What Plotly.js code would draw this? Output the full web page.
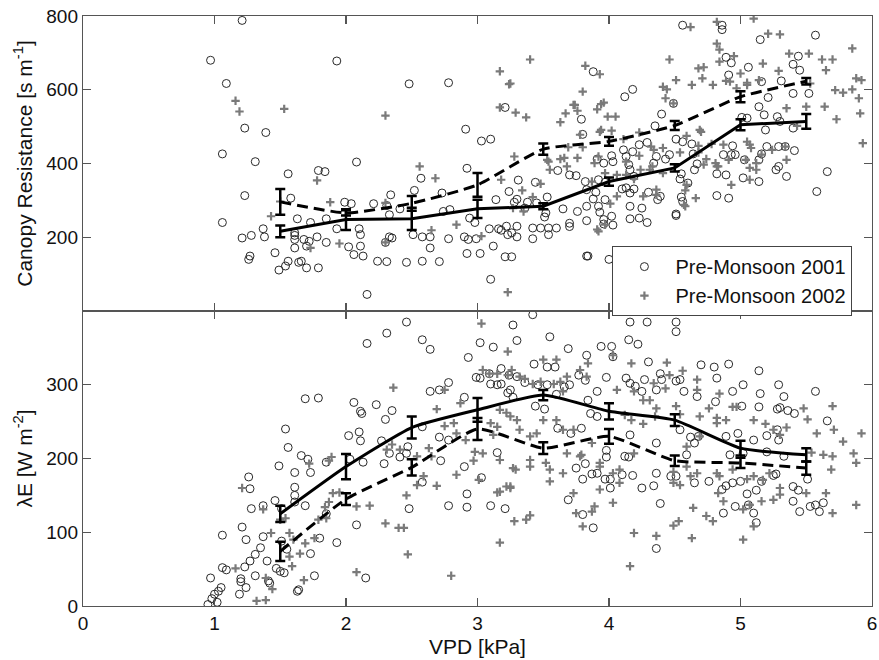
<!DOCTYPE html>
<html>
<head>
<meta charset="utf-8">
<script src="https://cdn.plot.ly/plotly-3.0.1.min.js"></script>
<style>html,body{margin:0;padding:0;background:#fff;}#chart{width:879px;height:660px;}</style>
</head>
<body>
<div id="chart"></div>
<script>
// ---- Bin means (VPD bins) ----
const binVPD = [1.5, 2, 2.5, 3, 3.5, 4, 4.5, 5, 5.5];
const rcMean2001 = [216, 248, 250, 277, 284, 351, 388, 505, 514];
const rcErr2001  = [16, 28, 30, 25, 8, 11, 10, 15, 20];
const rcMean2002 = [296, 266, 292, 342, 439, 460, 503, 581, 623];
const rcErr2002  = [35, 7, 20, 32, 15, 12, 12, 15, 9];
const leMean2001 = [125, 189, 242, 266, 286, 264, 252, 214, 205];
const leErr2001  = [11, 17, 15, 16, 7, 11, 8, 10, 9];
const leMean2002 = [74, 145, 188, 240, 214, 230, 197, 194, 187];
const leErr2002  = [13, 8, 11, 15, 8, 10, 7, 7, 9];

// ---- Canopy resistance, Pre-Monsoon 2001 (circles) [vpd, rc] ----
const rc2001 = [
[0.97,680],[1.21,788],[1.09,617],[1.23,496],[1.39,484],[1.06,426],[1.31,405],[1.56,372],[1.23,313],[1.58,306],
[1.06,240],[1.37,223],[1.21,198],[1.28,205],[1.38,201],[1.63,250],[1.61,205],[1.61,171],[1.46,158],[1.27,149],
[1.26,140],[1.49,111],[1.54,122],[1.56,135],[1.64,132],
[1.93,678],[2.48,616],[2.78,619],[3.21,552],[2.91,493],[3.03,461],[3.10,466],[3.79,520],[3.80,479],[2.08,404],
[1.79,381],[1.84,378],[2.92,387],[2.57,360],[3.31,355],[3.44,349],[3.61,381],[3.70,369],[3.75,367],[3.82,351],
[2.52,327],[2.34,315],[2.73,320],[3.24,324],[3.14,302],[3.30,303],[3.28,295],[1.99,295],[2.04,291],[2.21,291],
[2.31,286],[2.41,277],[1.73,240],[1.85,250],[1.93,223],[2.10,223],[2.11,207],[2.33,261],[2.33,201],[2.51,207],
[2.58,201],[2.64,201],[2.64,171],[2.74,270],[2.79,275],[2.78,196],[2.90,201],[2.93,194],[2.99,196],[2.94,252],
[2.98,240],[2.92,156],[3.02,156],[3.09,223],[3.16,223],[3.18,219],[3.12,176],[3.23,207],[3.26,212],[3.30,201],
[3.21,147],[3.26,147],[3.10,86],[2.16,45],[3.36,279],[3.38,295],[3.45,293],[3.53,309],[3.42,196],[3.42,225],
[3.48,225],[3.54,225],[3.60,225],[3.54,207],[3.51,255],[3.52,266],[3.65,277],[3.76,270],[3.83,284],[3.83,245],
[3.70,238],[3.70,229],[3.83,149],[1.61,212],[1.61,194],[1.68,194],[1.70,176],[1.72,189],[1.78,201],[1.85,186],
[1.66,135],[1.70,117],[1.79,117],[2.02,174],[2.06,153],[2.11,176],[2.13,149],[2.24,135],[2.31,134],[2.46,132],
[2.58,135],[2.71,134],[2.30,186],[2.35,198],[3.22,230],[3.30,230],
[4.56,775],[4.86,775],[4.86,763],[5.15,736],[5.57,748],[4.89,688],[4.93,673],[4.91,640],[5.06,661],[3.88,649],
[5.44,691],[5.40,669],[5.45,653],[5.16,622],[5.31,624],[5.40,590],[5.52,590],[5.21,579],[4.18,601],[4.12,581],
[4.49,563],[4.40,534],[4.35,502],[5.01,525],[5.05,523],[5.14,554],[5.18,532],[5.28,527],[5.30,514],[5.40,496],
[5.19,491],[5.20,446],[5.29,446],[5.34,446],[5.41,435],[4.94,448],[4.87,424],[4.93,424],[4.96,424],[5.03,410],
[5.14,410],[5.16,426],[4.63,453],[4.64,426],[4.51,466],[4.56,459],[4.23,451],[4.29,457],[4.18,432],[4.11,437],
[4.13,419],[4.02,421],[3.91,412],[3.96,401],[4.03,405],[4.36,419],[4.34,401],[4.46,424],[4.43,412],[4.67,399],
[4.65,383],[4.55,372],[4.54,358],[4.60,347],[4.55,309],[4.56,297],[4.51,259],[4.51,263],[4.82,372],[4.89,369],
[4.82,313],[4.91,306],[5.02,361],[5.14,351],[5.29,392],[5.35,365],[5.27,383],[5.66,378],[5.58,324],[4.15,397],
[4.16,383],[4.19,365],[3.92,356],[3.97,349],[3.83,329],[3.90,322],[3.88,304],[3.97,302],[3.92,284],[4.19,331],
[4.30,322],[4.39,311],[4.16,284],[4.25,279],[4.37,302],[3.93,268],[3.96,248],[4.02,257],[3.96,236],[4.03,233],
[4.16,250],[4.23,252],[4.29,240],[3.84,149],[4.00,140],[4.10,331],[4.13,334],[4.16,320]
];

// ---- Canopy resistance, Pre-Monsoon 2002 (plus signs) ----
const rc2002 = [
[1.16,570],[1.19,541],[1.53,548],[1.43,257],[1.50,297],
[3.40,682],[3.17,650],[3.24,615],[2.30,530],[3.17,552],[3.29,538],[3.37,525],[3.82,665],[3.80,595],[3.74,559],
[3.76,543],[3.67,536],[3.63,512],[3.28,419],[3.54,405],[3.55,383],[3.66,415],[3.76,415],[2.56,392],[2.68,360],
[1.78,354],[3.18,356],[3.34,327],[3.48,345],[1.88,295],[2.30,293],[2.84,234],[2.65,219],[1.95,183],[2.30,186],
[1.73,171],[3.03,203],[3.23,51],
[4.62,770],[4.82,784],[5.10,793],[4.82,725],[4.84,709],[4.95,691],[5.21,752],[5.30,750],[4.72,661],[4.84,676],
[4.46,682],[4.51,626],[4.63,613],[4.44,601],[3.93,642],[5.00,644],[5.05,619],[4.89,624],[4.97,604],[5.17,671],
[5.29,651],[5.37,698],[5.52,698],[5.62,682],[5.70,682],[5.65,653],[5.85,712],[5.88,631],[5.92,626],[5.90,577],
[5.91,536],[5.85,601],[5.72,599],[5.78,592],[5.64,554],[5.73,520],[5.93,455],[3.91,547],[3.99,527],[4.05,527],
[3.94,561],[3.94,491],[3.78,478],[4.11,466],[4.23,484],[4.32,446],[4.23,421],[4.41,442],[4.59,475],[4.70,486],
[4.54,430],[4.68,430],[4.78,453],[4.87,451],[5.07,451],[5.16,424],[5.12,401],[5.07,388],[5.24,437],[5.34,446],
[5.35,410],[5.43,502],[5.35,550],[5.50,554],[5.53,617],[3.89,401],[3.97,374],[3.87,351],[4.06,369],[4.19,358],
[4.41,374],[4.31,383],[4.72,397],[4.81,401],[4.83,392],[4.59,342],[4.58,327],[4.26,311],[4.36,315],[4.58,284],
[3.91,221],[4.01,291],[4.06,311],
[3.25,617],[3.73,559],[3.96,565],[4.41,608],[4.68,658],[4.49,563],[4.43,577],[4.71,631],[4.79,613],[4.92,622],
[5.05,613],[5.14,626],[3.92,419],[3.93,486],[4.02,489],[3.80,444],[3.69,444],[3.63,412],[3.68,392],[3.53,410],
[3.42,309],[3.35,270],[3.27,279],[3.92,216],[3.97,234],[4.57,288],[4.34,437],[4.33,392],[4.24,383],[4.13,405],
[4.13,369],[4.36,329],[4.69,491],[4.68,448],[4.82,392],[4.74,412],[4.91,410],[5.05,459],[5.08,442],[5.04,410],
[5.12,383],[5.07,356],[4.93,342],[4.66,306]
];

// ---- Latent heat flux, Pre-Monsoon 2001 (circles) ----
const le2001 = [
[1.54,240],[1.56,215],[1.49,190],[1.26,175],[1.27,159],[1.61,181],[1.61,161],[1.46,143],[1.28,132],[1.37,136],
[1.61,150],[1.61,141],[1.21,107],[1.06,96],[1.24,90],[1.37,94],[1.31,70],[1.35,79],[1.27,61],[1.40,61],
[1.23,53],[1.06,52],[1.09,49],[0.97,38],[1.20,37],[1.20,33],[1.31,41],[1.41,34],[1.42,31],[1.24,25],
[1.19,16],[1.05,25],[1.03,20],[1.00,16],[0.98,10],[0.95,2],[1.02,5],[1.47,51],[1.53,45],[1.63,20],
[1.51,132],[1.51,88],[1.55,77],
[1.69,281],[1.79,282],[2.06,276],[2.11,264],[2.12,261],[2.23,273],[2.35,265],[2.30,253],[2.02,231],[2.10,236],
[2.11,224],[1.66,204],[1.71,199],[1.73,181],[1.85,195],[2.03,199],[2.13,195],[2.27,224],[2.33,207],[2.41,202],
[2.29,193],[2.47,216],[2.46,207],[2.64,291],[2.71,293],[2.78,303],[2.90,283],[2.99,310],[3.10,301],[3.15,300],
[3.09,315],[3.23,289],[2.58,243],[2.71,229],[2.78,225],[2.72,197],[2.58,168],[2.90,189],[3.03,174],[3.15,208],
[3.21,132],[2.92,152],[2.92,134],[2.78,136],[2.48,132],[3.10,136],[1.69,136],[1.85,125],[1.93,86],[2.08,110],
[1.80,92],[1.73,71],[1.76,41],[1.64,22],[2.15,38],[1.50,47],
[2.46,385],[2.31,370],[2.16,356],[2.58,361],[2.64,348],[3.02,357],[3.12,351],[3.27,381],[3.30,360],[3.55,365],
[3.69,349],[3.83,340],[2.93,337],[3.02,309],[3.18,301],[3.18,322],[3.24,313],[3.30,311],[3.36,303],[3.43,328],
[3.46,300],[3.53,324],[3.59,324],[3.53,300],[3.60,287],[3.66,297],[3.70,300],[3.77,313],[3.82,306],[3.25,293],
[3.27,283],[3.44,271],[3.51,267],[3.61,241],[3.71,234],[3.75,187],[3.82,193],[3.80,172],[3.69,144],[3.80,124],
[3.42,395],
[4.16,385],[4.29,385],[4.51,385],[4.51,372],[4.15,361],[4.22,355],[3.94,352],[4.02,352],[4.03,338],[4.30,331],
[4.70,327],[4.80,324],[4.91,328],[5.14,319],[5.29,300],[5.33,284],[5.57,291],[5.66,251],[5.02,300],[4.94,291],
[3.98,310],[4.13,309],[4.16,302],[4.20,298],[4.25,291],[4.39,315],[4.40,307],[4.27,307],[4.36,293],[4.51,305],
[4.54,307],[4.57,291],[4.67,284],[4.81,277],[4.82,309],[5.01,271],[5.15,288],[5.14,270],[5.28,267],[5.30,269],
[5.36,265],[5.41,261],[3.91,291],[3.86,261],[3.91,257],[3.79,241],[3.87,179],[3.84,279],[3.98,211],[3.98,202],
[4.12,203],[4.15,202],[4.16,232],[4.36,221],[4.59,205],[4.62,229],[4.65,221],[4.68,230],[4.54,239],[4.89,230],
[4.98,234],[4.92,205],[5.02,207],[5.10,225],[5.20,231],[5.29,225],[5.28,239],[5.20,209],[5.33,203],[3.91,180],
[3.97,172],[4.01,172],[4.01,160],[4.10,178],[4.18,177],[4.25,160],[4.34,163],[4.36,180],[4.47,176],[4.51,176],
[4.65,167],[4.76,169],[4.86,158],[4.89,163],[4.94,167],[5.00,169],[5.05,152],[5.12,157],[5.16,169],[5.25,177],
[5.27,179],[5.40,162],[5.44,157],[5.51,172],[3.88,106],[4.36,78],[4.87,126],[4.96,135],[5.06,137],[5.10,126],
[5.12,113],[4.39,139],[5.45,128],[5.53,135],[5.57,137],[5.60,128],[5.63,140],[5.40,142]
];

// ---- Latent heat flux, Pre-Monsoon 2002 (plus signs) ----
const le2002 = [
[1.21,160],[1.16,51],[1.32,7],[1.39,8],[1.44,23],[1.39,38],[1.43,99],[1.59,54],[1.57,67],[1.50,117],
[1.54,119],[1.37,131],[1.57,99],[1.60,90],
[2.36,296],[2.69,267],[1.72,193],[1.87,197],[1.89,202],[1.90,153],[1.95,154],[1.87,141],[1.84,134],[2.08,135],
[2.18,136],[1.85,119],[1.79,117],[1.76,92],[1.69,85],[1.65,71],[1.68,35],[2.08,46],[2.30,112],[2.40,106],
[2.44,106],[2.47,70],[2.80,41],[2.46,150],[2.54,164],[2.59,176],[2.69,163],[2.84,178],[2.31,212],[2.35,219],
[2.41,212],[2.54,203],[2.63,214],[2.65,203],[2.75,244],[2.82,248],[2.84,234],[2.91,225],[2.98,209],[2.97,197],
[3.01,171],[3.15,154],[3.17,86],[3.22,162],[3.10,248],[3.12,232],[3.17,266],[3.22,262],[2.75,293],[2.87,275],
[3.04,320],[3.09,315],[3.15,315],[3.23,313],[3.26,320],[3.32,311],[3.36,308],[3.42,301],[3.48,304],[3.58,301],
[3.63,304],[3.68,311],[3.78,320],[3.84,329],[3.50,334],[3.60,334],[3.23,345],[3.03,383],[3.15,243],[3.30,252],
[3.40,230],[3.25,257],[3.32,239],[3.45,234],[3.50,252],[3.60,252],[3.65,239],[3.73,239],[3.04,207],[3.17,198],
[3.27,187],[3.40,198],[3.52,194],[3.55,169],[3.65,180],[3.73,153],[3.75,126],[3.80,108],[3.17,155],[3.25,162],
[3.28,115],[3.37,117],[3.40,123],
[4.03,340],[4.17,329],[4.44,330],[4.56,319],[4.67,307],[4.43,295],[4.31,279],[4.19,291],[4.36,268],[4.51,271],
[4.54,260],[4.35,257],[4.17,252],[4.26,247],[4.12,259],[4.76,268],[4.69,257],[4.82,255],[4.89,252],[4.97,270],
[5.10,252],[5.19,247],[5.25,239],[5.30,232],[5.35,242],[5.48,268],[5.51,253],[5.58,234],[5.70,271],[5.71,239],
[5.78,223],[5.92,234],[5.86,207],[5.88,194],[5.69,185],[5.70,203],[5.63,205],[5.54,208],[4.49,182],[4.59,189],
[4.62,176],[4.67,180],[4.49,167],[4.54,164],[4.82,180],[4.84,176],[4.94,185],[5.05,172],[5.10,176],[5.17,171],
[5.22,180],[5.30,160],[5.25,144],[5.16,142],[5.07,137],[5.02,131],[4.87,142],[4.83,153],[4.74,122],[4.79,115],
[4.64,133],[4.53,115],[4.49,109],[4.63,92],[4.36,95],[4.19,99],[4.16,54],[5.02,90],[5.10,108],[5.30,151],
[5.50,153],[5.65,153],[5.70,126],[5.88,137],[3.87,128],[3.93,158],[3.89,135],[4.03,140],[4.08,167],[4.03,180],
[3.93,189],[3.79,205],[3.87,221],
[3.65,291],[3.83,311],[4.06,293],[4.26,279],[4.34,302],[4.46,313],[4.67,293],[4.84,288],[4.94,270],[4.82,248],
[4.69,230],[4.59,216],[4.19,207],[4.08,185],[3.93,194],[3.78,203],[3.68,207],[3.55,185],[3.40,189],[3.29,185],
[3.25,160]
];

// ---- Tick labels ----
const xTicks = [0, 1, 2, 3, 4, 5, 6];
const rcTicks = [200, 400, 600, 800];
const leTicks = [0, 100, 200, 300];

const col = a => i => a.map(p => p[i]);
const FONT = 'Liberation Sans, Arial, Helvetica, sans-serif';
const circleMarker = {symbol: 'circle-open', size: 8, color: '#2a2a2a', line: {color: '#2a2a2a', width: 1}};
const plusMarker = {symbol: 'cross-thin', size: 6, color: '#7a7a7a', line: {color: '#7a7a7a', width: 2.2}};

function meanTrace(y, err, xa, ya, dashed) {
  return {
    x: binVPD, y: y, xaxis: xa, yaxis: ya, type: 'scatter', mode: 'lines',
    line: {color: '#000', width: 3, dash: dashed ? '11px,6px' : 'solid', shape: 'spline', smoothing: 0.5},
    error_y: {type: 'data', array: err, visible: true, color: '#000', thickness: 2.5, width: 5},
    showlegend: false, hoverinfo: 'skip'
  };
}

const traces = [
  {x: col(rc2001)(0), y: col(rc2001)(1), xaxis: 'x2', yaxis: 'y2', type: 'scatter', mode: 'markers',
   name: 'Pre-Monsoon 2001', marker: circleMarker, legendgroup: 'a'},
  {x: col(rc2002)(0), y: col(rc2002)(1), xaxis: 'x2', yaxis: 'y2', type: 'scatter', mode: 'markers',
   name: 'Pre-Monsoon 2002', marker: plusMarker, legendgroup: 'b'},
  {x: col(le2001)(0), y: col(le2001)(1), xaxis: 'x', yaxis: 'y', type: 'scatter', mode: 'markers',
   name: 'Pre-Monsoon 2001', marker: circleMarker, showlegend: false},
  {x: col(le2002)(0), y: col(le2002)(1), xaxis: 'x', yaxis: 'y', type: 'scatter', mode: 'markers',
   name: 'Pre-Monsoon 2002', marker: plusMarker, showlegend: false},
  meanTrace(rcMean2001, rcErr2001, 'x2', 'y2', false),
  meanTrace(rcMean2002, rcErr2002, 'x2', 'y2', true),
  meanTrace(leMean2001, leErr2001, 'x', 'y', false),
  meanTrace(leMean2002, leErr2002, 'x', 'y', true)
];
traces[4].line.shape = 'linear';

const axCommon = {
  showgrid: false, zeroline: false, showline: true, linecolor: '#555', linewidth: 1.2,
  ticks: 'inside', ticklen: 8, tickwidth: 1.2, tickcolor: '#555', mirror: 'ticks',
  tickfont: {family: FONT, size: 19, color: '#111'}
};

const layout = {
  width: 879, height: 660,
  margin: {l: 83, r: 7, t: 16, b: 54},
  paper_bgcolor: '#fff', plot_bgcolor: '#fff',
  font: {family: FONT, color: '#111'},
  showlegend: true,
  legend: {x: 0.671, y: 0.61, xanchor: 'left', yanchor: 'top', bgcolor: '#fff',
           bordercolor: '#444', borderwidth: 1, font: {family: FONT, size: 20, color: '#111'},
           tracegroupgap: 0, itemwidth: 52, entrywidth: 210, entrywidthmode: 'pixels'},
  xaxis: Object.assign({}, axCommon, {range: [0, 6], tickvals: xTicks, anchor: 'y', domain: [0, 1],
           title: {text: 'VPD [kPa]', font: {family: FONT, size: 21, color: '#111'}, standoff: 6}}),
  yaxis: Object.assign({}, axCommon, {range: [0, 400], tickvals: leTicks, domain: [0, 0.5], anchor: 'x',
           title: {text: 'λE [W m<sup>-2</sup>]', font: {family: FONT, size: 21, color: '#111'}, standoff: 8}}),
  xaxis2: Object.assign({}, axCommon, {range: [0, 6], tickvals: xTicks, anchor: 'y2', domain: [0, 1],
           showticklabels: false, matches: 'x'}),
  yaxis2: Object.assign({}, axCommon, {range: [0, 800], tickvals: rcTicks, domain: [0.5, 1], anchor: 'x2',
           title: {text: 'Canopy Resistance [s m<sup>-1</sup>]', font: {family: FONT, size: 21, color: '#111'}, standoff: 8}})
};

Plotly.newPlot('chart', traces, layout, {displayModeBar: false, staticPlot: true});
</script>
</body>
</html>
